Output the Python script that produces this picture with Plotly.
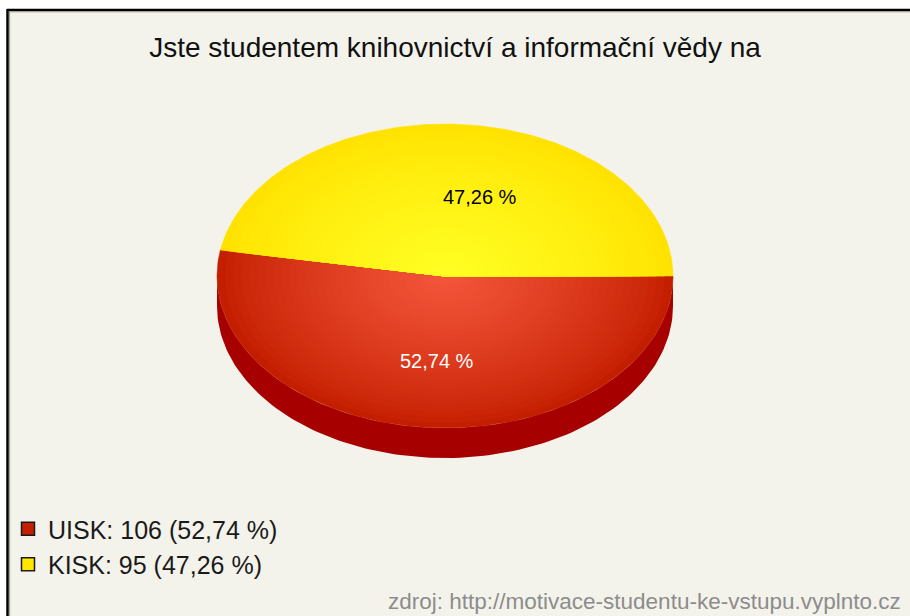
import numpy as np
import plotly.graph_objects as go

# ---- data ----
labels = ["UISK", "KISK"]
values = [106, 95]
face_edge_colors = ["#C41E00", "#FFE200"]
face_center_colors = ["#F5573C", "#FFFF24"]
side_colors = ["#A60000", "#C8B000"]
legend_colors = ["#C42000", "#FFE800"]
label_text_colors = ["#FFFFFF", "#000000"]
title_text = "Jste studentem knihovnictví a informační vědy na"
source_text = "zdroj: http://motivace-studentu-ke-vstupu.vyplnto.cz"

# ---- geometry / style ----
W, H = 910, 616
CX, CY, RX, RY, DEPTH = 445, 276, 228, 152, 30
LABEL_R = 0.56
FONT = "Liberation Sans, Arial, sans-serif"
N_LAYERS = 28


def hex2rgb(h):
    h = h.lstrip("#")
    return np.array([int(h[i:i + 2], 16) for i in (0, 2, 4)], dtype=float)


def mix(c1, c2, t):
    a, b = hex2rgb(c1), hex2rgb(c2)
    c = a + (b - a) * t
    return "rgb(%d,%d,%d)" % tuple(np.round(c).astype(int))


def fmt_pct(p):
    return ("%.2f" % p).replace(".", ",")


total = float(sum(values))
pcts = [v / total * 100 for v in values]
fracs = [v / total for v in values]

fig = go.Figure()

# slice angle ranges (clockwise on screen from 3 o'clock)
starts, ends = [], []
acc = 0.0
for f in fracs:
    starts.append(acc * 2 * np.pi)
    acc += f
    ends.append(acc * 2 * np.pi)

# side (front, visible part from 0 to pi)
for i in range(len(values)):
    a0, a1 = max(starts[i], 0.0), min(ends[i], np.pi)
    if a1 <= a0:
        continue
    th = np.linspace(a0, a1, 120)
    xs = np.concatenate([CX + RX * np.cos(th), (CX + RX * np.cos(th))[::-1]])
    ys = np.concatenate([CY + RY * np.sin(th), (CY + DEPTH + RY * np.sin(th))[::-1]])
    fig.add_trace(go.Scatter(x=xs, y=ys, fill="toself", mode="lines",
                             line=dict(width=0), fillcolor=side_colors[i],
                             hoverinfo="skip", showlegend=False))

# top faces with radial gradient (layered scaled sectors)
for i in range(len(values)):
    th = np.linspace(starts[i], ends[i], 200)
    for k in range(N_LAYERS):
        s = 1.0 - k / N_LAYERS
        t = (1.0 - s) ** 0.8
        col = mix(face_edge_colors[i], face_center_colors[i], t)
        xs = np.concatenate([[CX], CX + s * RX * np.cos(th), [CX]])
        ys = np.concatenate([[CY], CY + s * RY * np.sin(th), [CY]])
        fig.add_trace(go.Scatter(x=xs, y=ys, fill="toself", mode="lines",
                                 line=dict(width=0.5, color=col), fillcolor=col,
                                 hoverinfo="skip", showlegend=False))

# percent labels
label_xshift = [3, 24]
label_yshift = [0, -6]
for i in range(len(values)):
    mid = (starts[i] + ends[i]) / 2
    fig.add_annotation(x=CX + LABEL_R * RX * np.cos(mid),
                       y=CY + LABEL_R * RY * np.sin(mid),
                       xshift=label_xshift[i], yshift=label_yshift[i],
                       text=fmt_pct(pcts[i]) + " %", showarrow=False,
                       font=dict(family=FONT, size=20, color=label_text_colors[i]))

# legend entries
for i in range(len(values)):
    fig.add_trace(go.Scatter(x=[None], y=[None], mode="markers",
                             marker=dict(symbol="square", size=13, color=legend_colors[i],
                                         line=dict(color="#1a1a1a", width=1.5)),
                             name="%s: %d (%s %%)" % (labels[i], values[i], fmt_pct(pcts[i]))))

fig.add_annotation(x=903, y=601, xanchor="right", yanchor="middle", showarrow=False,
                   text=source_text, font=dict(family=FONT, size=22.5, color="#8C8C8C"))

fig.update_layout(
    width=W, height=H,
    margin=dict(l=0, r=0, t=0, b=0),
    paper_bgcolor="#FFFFFF",
    plot_bgcolor="rgba(0,0,0,0)",
    title=dict(text=title_text, x=0.5, xanchor="center", y=1 - 47 / H, yanchor="middle",
               yref="container", font=dict(family=FONT, size=28, color="#111111")),
    xaxis=dict(range=[0, W], visible=False, fixedrange=True),
    yaxis=dict(range=[H, 0], visible=False, fixedrange=True),
    showlegend=True,
    legend=dict(x=8 / W, xanchor="left", y=1 - 506 / H, yanchor="top",
                font=dict(family=FONT, size=25, color="#1a1a1a"),
                bgcolor="rgba(0,0,0,0)", itemwidth=30, tracegroupgap=0),
    shapes=[
        dict(type="rect", xref="x", yref="y", x0=8, x1=W + 5, y0=10, y1=H + 5,
             fillcolor="#F4F3EB", line=dict(width=0), layer="below"),
        dict(type="line", xref="x", yref="y", x0=7, x1=W + 5, y0=10, y1=10,
             line=dict(color="#000000", width=2.5), layer="below"),
        dict(type="line", xref="x", yref="y", x0=7.5, x1=7.5, y0=9, y1=H + 5,
             line=dict(color="#000000", width=2.5), layer="below"),
        dict(type="line", xref="x", yref="y", x0=9, x1=W + 5, y0=11.8, y1=11.8,
             line=dict(color="#9A9A90", width=1), layer="below"),
        dict(type="line", xref="x", yref="y", x0=9.6, x1=9.6, y0=11, y1=H + 5,
             line=dict(color="#9A9A90", width=1), layer="below"),
    ],
)

fig.write_html("out.html", config={"displayModeBar": False},
               post_script="document.body.style.margin='0';document.body.style.overflow='hidden';")
